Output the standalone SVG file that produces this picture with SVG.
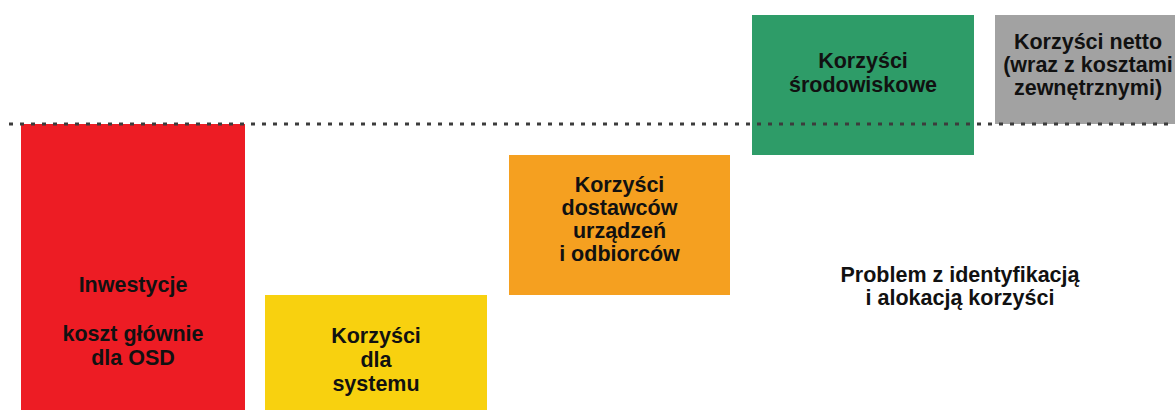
<svg xmlns="http://www.w3.org/2000/svg" width="1175" height="410" viewBox="0 0 1175 410">
  <style>
    .lbl { font-family: "Liberation Sans", Arial, sans-serif; font-weight: bold; font-size: 21.5px; fill: #111; text-anchor: middle; }
  </style>
  <rect width="1175" height="410" fill="#ffffff"/>

  <g id="inwestycje">
    <rect x="21" y="124" width="224" height="290" fill="#ED1C24"/>
    <text class="lbl" x="133" y="292">Inwestycje</text>
    <text class="lbl" x="133" y="341">koszt głównie</text>
    <text class="lbl" x="133" y="365">dla OSD</text>
  </g>

  <g id="system">
    <rect x="265" y="295" width="222" height="120" fill="#F8D10F"/>
    <text class="lbl" x="376" y="343">Korzyści</text>
    <text class="lbl" x="376" y="367">dla</text>
    <text class="lbl" x="376" y="391">systemu</text>
  </g>

  <g id="dostawcy">
    <rect x="509" y="155" width="221" height="140" fill="#F5A020"/>
    <text class="lbl" x="619.5" y="192">Korzyści</text>
    <text class="lbl" x="619.5" y="215">dostawców</text>
    <text class="lbl" x="619.5" y="238">urządzeń</text>
    <text class="lbl" x="619.5" y="261">i odbiorców</text>
  </g>

  <g id="srodowisko">
    <rect x="752" y="15" width="222" height="140" fill="#2E9C68"/>
    <text class="lbl" x="863" y="68">Korzyści</text>
    <text class="lbl" x="863" y="92">środowiskowe</text>
  </g>

  <g id="netto">
    <rect x="995" y="15" width="190" height="109" fill="#A2A2A2"/>
    <text class="lbl" x="1088" y="49">Korzyści netto</text>
    <text class="lbl" x="1088" y="72">(wraz z kosztami</text>
    <text class="lbl" x="1088" y="95">zewnętrznymi)</text>
  </g>

  <g id="problem">
    <text class="lbl" x="960" y="282">Problem z identyfikacją</text>
    <text class="lbl" x="960" y="305">i alokacją korzyści</text>
  </g>

  <g id="connectors">
    <line x1="9" y1="124" x2="1175" y2="124" stroke="#3c3c3c" stroke-width="3" stroke-dasharray="4 7"/>
  </g>
</svg>
